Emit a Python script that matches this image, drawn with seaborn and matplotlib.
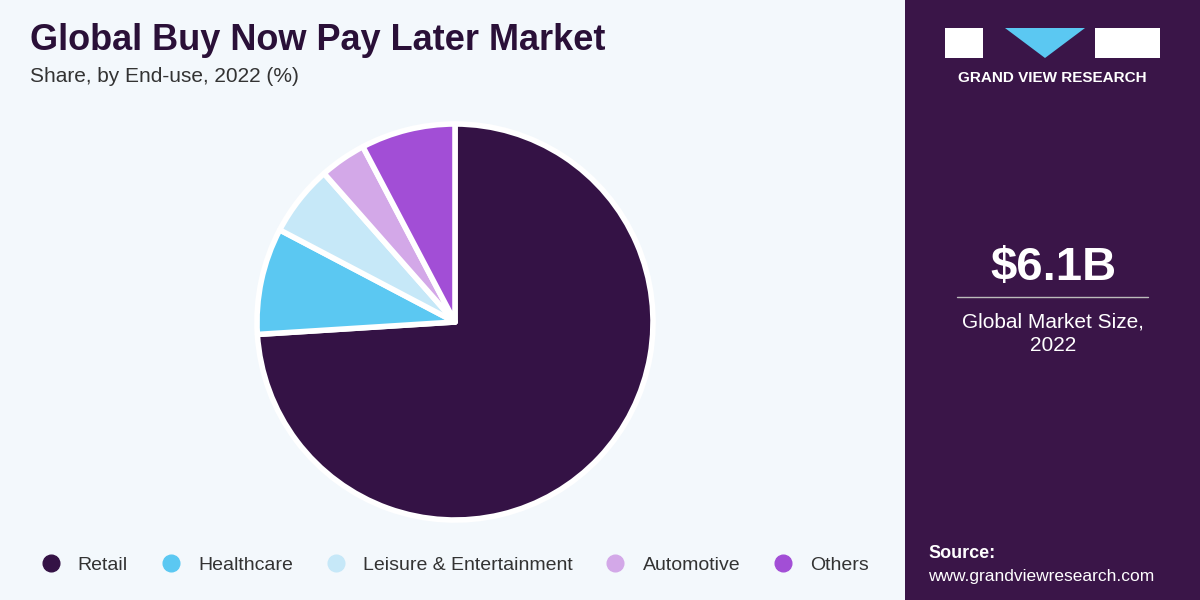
import matplotlib
matplotlib.use("Agg")
import matplotlib.pyplot as plt
import seaborn as sns
from matplotlib.patches import Rectangle, Polygon
from matplotlib.lines import Line2D

sns.set_theme(style="white")
plt.rcParams['font.family'] = ['Liberation Sans', 'DejaVu Sans']

categories = ["Retail", "Healthcare", "Leisure & Entertainment", "Automotive", "Others"]
shares = [74.0, 8.7, 5.8, 3.8, 7.7]
colors = ["#341245", "#5bc8f2", "#c6e8f8", "#d3a8e8", "#a24ed6"]

fig = plt.figure(figsize=(12, 6), dpi=100)
fig.patch.set_facecolor("#f3f8fc")
fig.patches.append(Rectangle((905/1200, 0), 295/1200, 1, transform=fig.transFigure,
                             facecolor="#3a1548", edgecolor="none", zorder=0))

R = 198
ax = fig.add_axes([(455-R)/1200, (600-322-R)/600, 2*R/1200, 2*R/600])
ax.pie(shares, colors=colors, startangle=90, counterclock=False, radius=1,
       wedgeprops=dict(edgecolor="white", linewidth=4, joinstyle="round"))
ax.set_xlim(-1, 1)
ax.set_ylim(-1, 1)
ax.set_aspect("equal")
ax.axis("off")

fig.text(30/1200, 1-40/600, "Global Buy Now Pay Later Market", fontsize=26,
         fontweight="bold", color="#2a1038", va="center")
fig.text(30/1200, 1-76/600, "Share, by End-use, 2022 (%)", fontsize=15,
         color="#333333", va="center")

handles = [Line2D([], [], marker="o", linestyle="none", markersize=12,
                  markerfacecolor=c, markeredgecolor=c) for c in colors]
fig.legend(handles, categories, loc="center", bbox_to_anchor=(450/1200, 1-565/600),
           ncol=5, frameon=False, fontsize=14, handletextpad=0.4, columnspacing=1.2,
           labelcolor="#333333", borderaxespad=0, borderpad=0)

fig.text(1053/1200, 1-268/600, "$6.1B", fontsize=34, fontweight="bold",
         color="white", ha="center", va="center")
fig.lines.append(Line2D([957/1200, 1148/1200], [1-297/600]*2, transform=fig.transFigure,
                        color="#bbbbbb", linewidth=1))
fig.text(1053/1200, 1-334/600, "Global Market Size,\n2022", fontsize=15,
         color="white", ha="center", va="center", linespacing=1.3)
fig.text(928/1200, 1-553/600, "Source:", fontsize=13, fontweight="bold", color="white", va="center")
fig.text(928/1200, 1-577/600, "www.grandviewresearch.com", fontsize=12.5, color="white", va="center")

def px(x, y):
    return (x/1200, 1-y/600)
fig.patches.append(Rectangle(px(945, 58), 38/1200, 30/600, transform=fig.transFigure,
                             facecolor="white", edgecolor="none"))
fig.patches.append(Polygon([px(1005, 28), px(1085, 28), px(1045, 58)], closed=True,
                           transform=fig.transFigure, facecolor="#5bc8f2", edgecolor="none"))
fig.patches.append(Rectangle(px(1095, 58), 65/1200, 30/600, transform=fig.transFigure,
                             facecolor="white", edgecolor="none"))
fig.text(1052/1200, 1-78/600, "GRAND VIEW RESEARCH", fontsize=11, fontweight="bold",
         color="white", ha="center", va="center")

fig.savefig("out.png", dpi=100, facecolor=fig.get_facecolor())
